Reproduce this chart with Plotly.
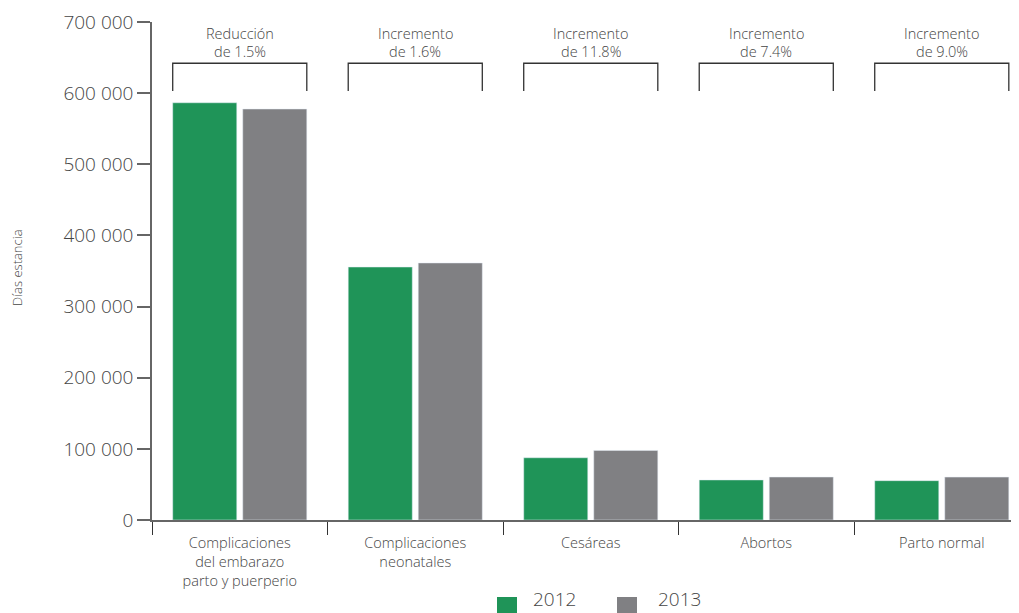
import plotly.graph_objects as go

categories = ["Complicaciones<br>del embarazo<br>parto y puerperio",
              "Complicaciones<br>neonatales", "Cesáreas", "Abortos", "Parto normal"]
values_2012 = [586500, 355600, 87500, 56300, 55300]
values_2013 = [577700, 361300, 97800, 60400, 60300]
change_labels = [["Reducción", "de 1.5%"], ["Incremento", "de 1.6%"], ["Incremento", "de 11.8%"],
                 ["Incremento", "de 7.4%"], ["Incremento", "de 9.0%"]]
series_names = ["2012", "2013"]
y_ticks = [0, 100000, 200000, 300000, 400000, 500000, 600000, 700000]

GREEN = "#1f9458"
GRAY = "#808083"
TXT = "#454545"
AX = "#666666"
FONT = "Open Sans"
WGT = 300

OFF = 8  # page body offset
W, H = 1019 - OFF, 613 - OFF
L, R, T, B = 152 - OFF, 0, 22 - OFF, 93
PW, PH = W - L - R, H - T - B


def px_x(px):
    return (px - OFF - L) / PW


def px_y(py):
    return (H - B - (py - OFF)) / PH


BW = 0.365
fig = go.Figure()
fig.add_trace(go.Bar(x=categories, y=values_2012, name=series_names[0], marker_color=GREEN,
                     width=BW, offset=-0.382, showlegend=False))
fig.add_trace(go.Bar(x=categories, y=values_2013, name=series_names[1], marker_color=GRAY,
                     width=BW, offset=0.017, showlegend=False))

bracket_top = 642000
bracket_bot = 603000
for i, lines in enumerate(change_labels):
    x0 = i - 0.382
    x1 = i + 0.382
    fig.add_shape(type="path",
                  path=f"M {x0} {bracket_bot} L {x0} {bracket_top} L {x1} {bracket_top} L {x1} {bracket_bot}",
                  xref="x", yref="y", line=dict(color="#333333", width=1.3))
    for j, line in enumerate(lines):
        fig.add_annotation(x=i, y=px_y(33 + 19 * j), xref="x", yref="paper", text=line,
                           showarrow=False, xanchor="center", yanchor="middle",
                           font=dict(family=FONT, size=14.5, color=TXT, weight=WGT))

# y-axis title
fig.add_annotation(x=px_x(17), y=px_y(268), xref="paper", yref="paper", text="Días estancia",
                   textangle=-90, showarrow=False, xanchor="center", yanchor="middle",
                   font=dict(family=FONT, size=13, color=TXT, weight=WGT))

# manual legend
legend_pos = [(497, 531), (617, 656)]
for name, col, (sx, tx) in zip(series_names, [GREEN, GRAY], legend_pos):
    fig.add_shape(type="rect", xref="paper", yref="paper", x0=px_x(sx), x1=px_x(sx + 20),
                  y0=px_y(597), y1=px_y(615), fillcolor=col, line=dict(width=0), layer="above")
    fig.add_annotation(x=px_x(tx), y=px_y(599), xref="paper", yref="paper", text=name,
                       showarrow=False, xanchor="left", yanchor="middle",
                       font=dict(family=FONT, size=19, color=TXT, weight=WGT))

fig.update_layout(
    width=W, height=H,
    margin=dict(l=L, r=R, t=T, b=B, autoexpand=False),
    paper_bgcolor="white", plot_bgcolor="white",
    separators=". ",
    barmode="overlay",
    showlegend=False,
    font=dict(family=FONT, color=TXT, weight=WGT),
)
fig.update_xaxes(type="category", range=[-0.5, 4.44], showline=True, linecolor=AX, linewidth=1.5,
                 ticks="outside", tickson="boundaries", ticklen=13, tickcolor="#333333", tickwidth=1.3,
                 showgrid=False, automargin=False, ticklabelstandoff=9,
                 tickfont=dict(family=FONT, size=14.5, color=TXT, weight=WGT))
fig.update_yaxes(range=[0, 700000], tickvals=y_ticks, tickformat=",d", showline=True, linecolor=AX,
                 linewidth=1.5, ticks="outside", ticklen=13, tickcolor=AX, tickwidth=1.5,
                 showgrid=False, zeroline=False, automargin=False,
                 tickfont=dict(family=FONT, size=19, color=TXT, weight=WGT))

fig.write_html("out.html")
